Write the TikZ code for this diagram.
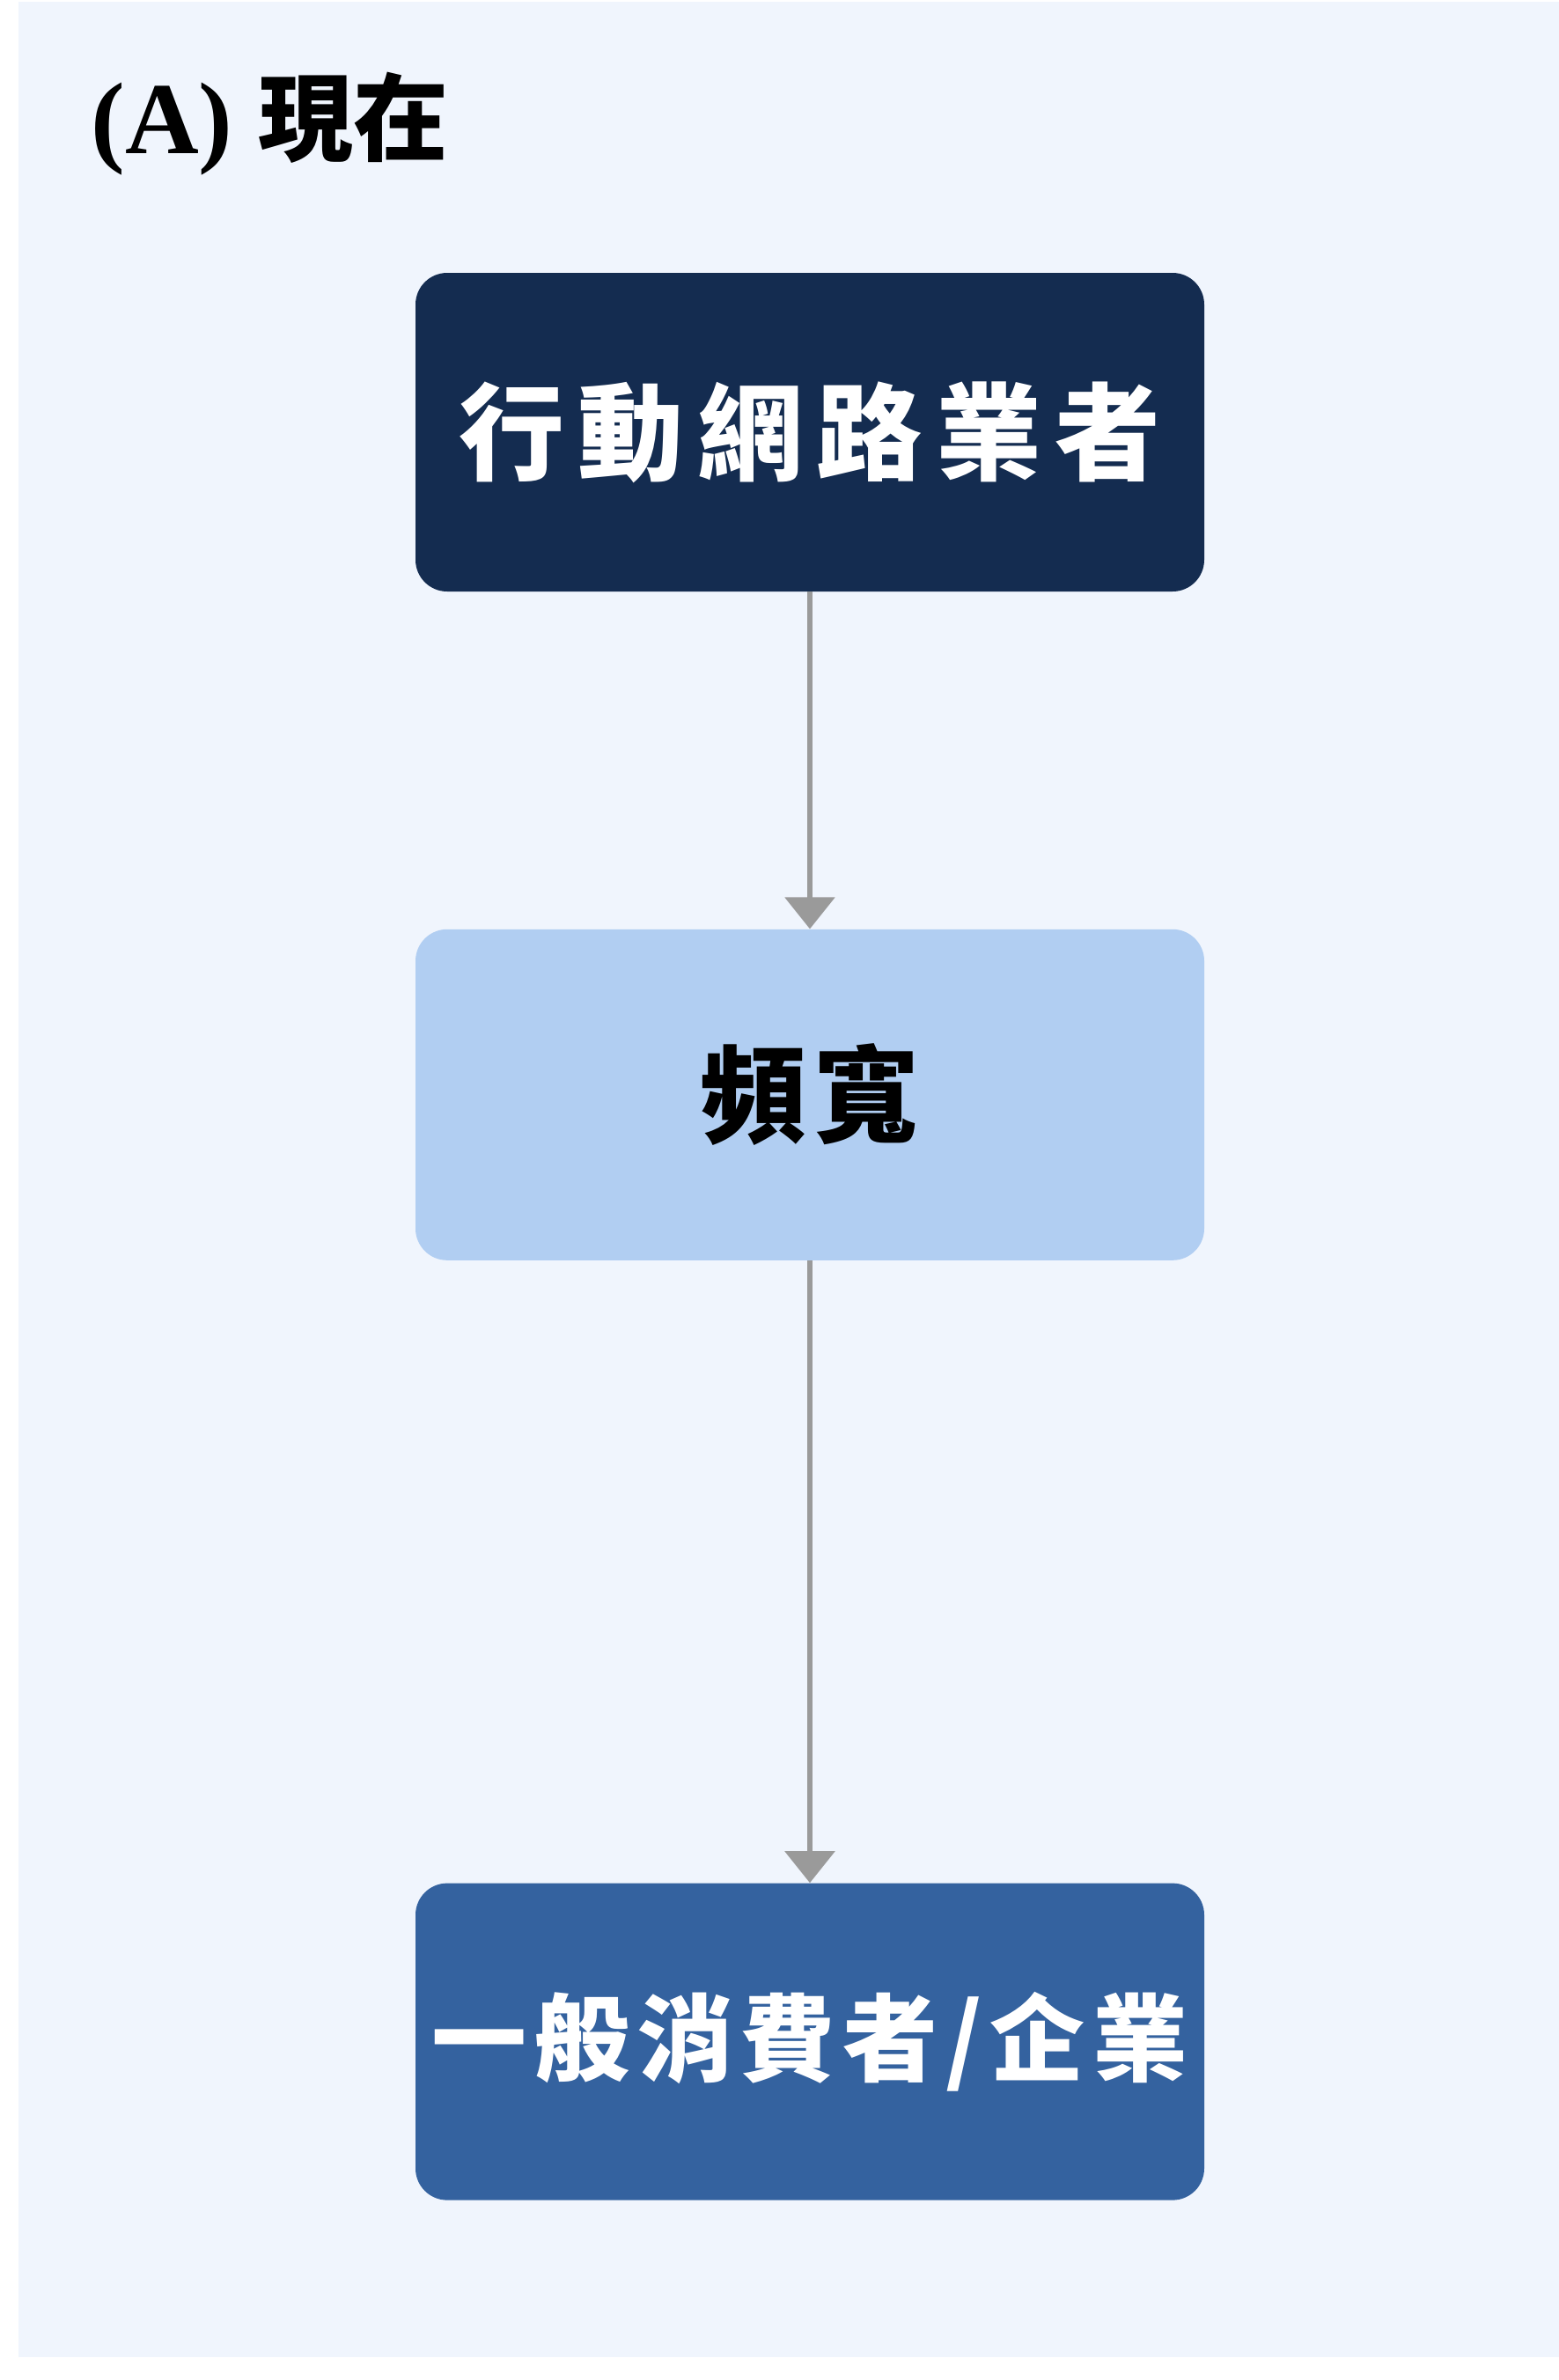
\documentclass[tikz,border=0pt]{standalone}
\usepackage{fontspec}
\setmainfont{Liberation Serif}
\newfontfamily\cjk{Noto Sans CJK TC}
\usetikzlibrary{arrows.meta, positioning}
\definecolor{panelbg}{HTML}{F0F5FD}
\definecolor{navy}{HTML}{142C50}
\definecolor{skyblue}{HTML}{B1CEF2}
\definecolor{midblue}{HTML}{34629F}
\definecolor{arrowgray}{HTML}{9A9A9A}

\begin{document}
\begin{tikzpicture}[
    >={Triangle[width=28pt, length=18pt]},
    box/.style ={rounded corners=18pt, align=center, inner sep=0pt,
                 minimum width=448pt, minimum height=181pt,
                 font={\cjk\bfseries\fontsize{60pt}{72pt}\selectfont}},
    oper/.style={box, fill=navy, text=white},
    band/.style={box, fill=skyblue, text=black, minimum height=188pt},
    user/.style={box, fill=midblue, text=white, minimum height=180pt,
                 font={\cjk\bfseries\fontsize{54pt}{64pt}\selectfont}},
    flow/.style={->, line width=3pt, draw=arrowgray},
    head/.style={anchor=base west, inner sep=0pt,
                 font={\bfseries\fontsize{58pt}{66pt}\selectfont}},
]
% page and panel
\useasboundingbox (0,0) rectangle (885.5pt,-1352pt);
\fill[panelbg] (10.5pt,-1pt) rectangle (885.5pt,-1339pt);
% title
\node[head] (title) at (51.5pt,-87pt)
     {(A) {\cjk\fontsize{54pt}{60pt}\selectfont 現在}};
% three stages, top to bottom
\node[oper] (mno) at (460pt,-245.5pt)
     {\addfontfeature{LetterSpace=13}行動網路業者};
\node[band, below=191.5pt of mno] (spec)
     {\addfontfeature{LetterSpace=8}頻寬};
\node[user, below=353.5pt of spec] (cust)
     {\addfontfeature{LetterSpace=8}一般消費者/企業};
\draw[flow] (mno) -- (spec);
\draw[flow] (spec) -- (cust);
\end{tikzpicture}
\end{document}
